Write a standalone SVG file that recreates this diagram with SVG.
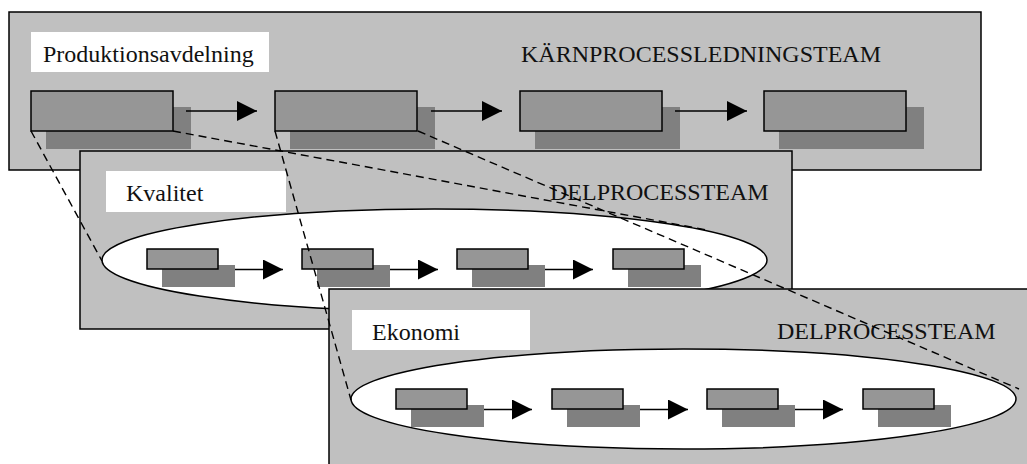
<svg xmlns="http://www.w3.org/2000/svg" width="1027" height="464" viewBox="0 0 1027 464">
  <style>
    .panel { fill: #c0c0c0; stroke: #000; stroke-width: 1.5; }
    .label-bg { fill: #fff; stroke: none; }
    .label { font-family: "Liberation Serif", "Times New Roman", serif; font-size: 24px; fill: #111; }
    .oval { fill: #fff; stroke: #000; stroke-width: 1.5; }
    .shadow { fill: #808080; stroke: none; }
    .box { fill: #969696; stroke: #000; stroke-width: 1.5; }
    .flow { stroke: #000; stroke-width: 1.5; fill: none; marker-end: url(#head); }
    .link { stroke: #000; stroke-width: 1.4; fill: none; stroke-dasharray: 8 5; }
  </style>
  <defs>
    <marker id="head" markerUnits="userSpaceOnUse" markerWidth="21" markerHeight="21" refX="20" refY="10" orient="auto" viewBox="0 0 21 21">
      <path d="M0,0 L20,10 L0,20 Z" fill="#000"/>
    </marker>
    <!-- large step: shadow, box -->
    <g id="bigStep">
      <rect class="shadow" x="15" y="16" width="145" height="42"/>
      <rect class="box" x="0" y="0" width="142" height="40"/>
    </g>
    <!-- small step: shadow, box -->
    <g id="smallStep">
      <rect class="shadow" x="15" y="16" width="73" height="22"/>
      <rect class="box" x="0" y="0" width="71" height="20"/>
    </g>
  </defs>

  <rect width="1027" height="464" fill="#fff"/>

  <!-- Core process team -->
  <g id="karnprocess">
    <rect class="panel" x="9" y="12" width="972" height="158"/>
    <rect class="label-bg" x="31" y="32" width="238" height="40"/>
    <text class="label" x="43" y="62">Produktionsavdelning</text>
    <text class="label" x="521" y="62">KÄRNPROCESSLEDNINGSTEAM</text>
    <g id="k1"><use href="#bigStep" x="31" y="91"/></g>
    <g id="k2"><use href="#bigStep" x="275" y="91"/></g>
    <g id="k3"><use href="#bigStep" x="520" y="91"/></g>
    <g id="k4"><use href="#bigStep" x="764" y="91"/></g>
    <path class="flow" d="M186,111 H257"/>
    <path class="flow" d="M431,111 H502"/>
    <path class="flow" d="M675,111 H747"/>
  </g>

  <!-- Sub-process team: Kvalitet -->
  <g id="kvalitet">
    <rect class="panel" x="80" y="151" width="712" height="178"/>
    <rect class="label-bg" x="106" y="171" width="180" height="41"/>
    <text class="label" x="126" y="201">Kvalitet</text>
    <text class="label" x="550" y="200">DELPROCESSTEAM</text>
    <ellipse class="oval" cx="434.5" cy="260" rx="332.5" ry="51"/>
    <g id="q1"><use href="#smallStep" x="147" y="249"/></g>
    <g id="q2"><use href="#smallStep" x="302" y="249"/></g>
    <g id="q3"><use href="#smallStep" x="457" y="249"/></g>
    <g id="q4"><use href="#smallStep" x="613" y="249"/></g>
    <path class="flow" d="M235,269.5 H283"/>
    <path class="flow" d="M390,269.5 H438"/>
    <path class="flow" d="M545,269.5 H593"/>
  </g>

  <!-- Sub-process team: Ekonomi -->
  <g id="ekonomi">
    <rect class="panel" x="329" y="289" width="720" height="200"/>
    <rect class="label-bg" x="352" y="310" width="178" height="40"/>
    <text class="label" x="372" y="340">Ekonomi</text>
    <text class="label" x="777" y="339">DELPROCESSTEAM</text>
    <ellipse class="oval" cx="683.5" cy="399" rx="332.5" ry="50"/>
    <g id="e1"><use href="#smallStep" x="396" y="389"/></g>
    <g id="e2"><use href="#smallStep" x="552" y="389"/></g>
    <g id="e3"><use href="#smallStep" x="707" y="389"/></g>
    <g id="e4"><use href="#smallStep" x="863" y="389"/></g>
    <path class="flow" d="M484,409.5 H532"/>
    <path class="flow" d="M640,409.5 H688"/>
    <path class="flow" d="M795,409.5 H843"/>
  </g>

  <!-- Dashed zoom-out links from core steps to sub-process ovals -->
  <g id="connectors">
    <path class="link" d="M31,131 L102,261"/>
    <path class="link" d="M173,131 L707,230"/>
    <path class="link" d="M275,131 L351,400"/>
    <path class="link" d="M418,131 L1019,389"/>
  </g>
</svg>
